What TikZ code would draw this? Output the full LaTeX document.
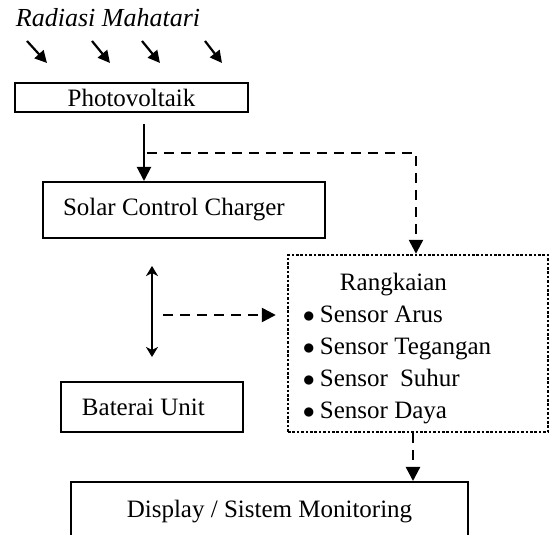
\documentclass[tikz,border=0pt]{standalone}
\usepackage{fontspec}
\setmainfont{Liberation Serif}
\usetikzlibrary{arrows.meta}
\tikzset{every picture/.style={line width=1pt}}
\newcommand{\itembul}{$\bullet$\hspace{2.5pt}}

\begin{document}
\begin{tikzpicture}[
    x=0.5pt, y=-0.5pt,
    font=\fontsize{12.5}{16}\selectfont,
    blok/.style={
        rectangle, draw=black, line width=1pt, inner sep=0pt
    },
    sensorbox/.style={
        rectangle, draw=black, line width=1.2pt,
        dash pattern=on 1.3pt off 0.9pt,
        inner ysep=0pt, inner xsep=7.5pt, text width=115pt, align=flush left,
        minimum width=130pt, minimum height=88.5pt
    },
    arrow/.style={-{Triangle[length=7pt, width=7pt]}, line width=1pt},
    dasharrow/.style={-{Triangle[length=7pt, width=7pt]}, line width=1.2pt,
        dash pattern=on 5pt off 3.5pt},
    rayarrow/.style={-{Triangle[length=6pt, width=6pt]}, line width=1.1pt},
    twoway/.style={{Stealth[length=5pt, width=6pt, inset=1.5pt]}-{Stealth[length=5pt, width=6pt, inset=1.5pt]}, line width=1pt},
]

\useasboundingbox (0,0) rectangle (554,535);
\clip (0,0) rectangle (554,535);

%% ===================== SUN RAYS =====================
\node[anchor=base west, inner sep=0pt, font=\fontsize{13}{16}\selectfont\itshape]
  (rad) at (15,27) {Radiasi Mahatari};
\foreach \xa/\xb in {27/47, 92/110, 142/160, 205/222} {
  \draw[rayarrow] (\xa,41) -- (\xb,63);
}

%% ===================== BLOCKS =====================
\node[blok, minimum width=116.5pt, minimum height=14.5pt] (pv) at (131.5,97.5) {Photovoltaik};

\node[blok, minimum height=28pt, text width=121pt, inner xsep=10pt, align=flush left]
  (scc) at (184,210) {Solar Control Charger};

\node[blok, minimum height=25pt, text width=70pt, inner xsep=10.5pt, align=flush left]
  (bat) at (152,407) {Baterai Unit};

\node[sensorbox] (sensor) at (418,343.5) {%
  \rule{0pt}{13.5pt}\hspace*{18.5pt}Rangkaian\\
  \itembul Sensor Arus\\
  \itembul Sensor Tegangan\\
  \itembul Sensor\hspace{6pt}Suhur\\
  \itembul Sensor Daya};

% display box runs past the lower edge of the page
\node[blok, minimum width=198.5pt, minimum height=30pt] (disp) at (269.5,512)
  {Display / Sistem Monitoring};

%% ===================== CONNECTORS =====================
\coordinate (tap) at (144,153);
\coordinate (mid) at (153,315);

% PV -> SCC
\draw[arrow] (tap |- pv.south) ++(0,11) -- (tap |- scc.north);
% PV -> sensor (dashed)
\draw[dasharrow] ([xshift=1.5pt]tap) -| ([xshift=-1pt]sensor.north);

% SCC <-> battery
\draw[twoway, shorten <=13.5pt, shorten >=12pt] (bat.north |- scc.south) -- (bat.north);
% battery line -> sensor (dashed)
\draw[dasharrow, shorten >=5.5pt] ([xshift=5pt]mid) -- (mid -| sensor.west);

% sensor -> display (dashed)
\draw[dasharrow] ([xshift=-2.5pt]sensor.south) -- ([xshift=-2.5pt]sensor.south |- disp.north);

\end{tikzpicture}
\end{document}
